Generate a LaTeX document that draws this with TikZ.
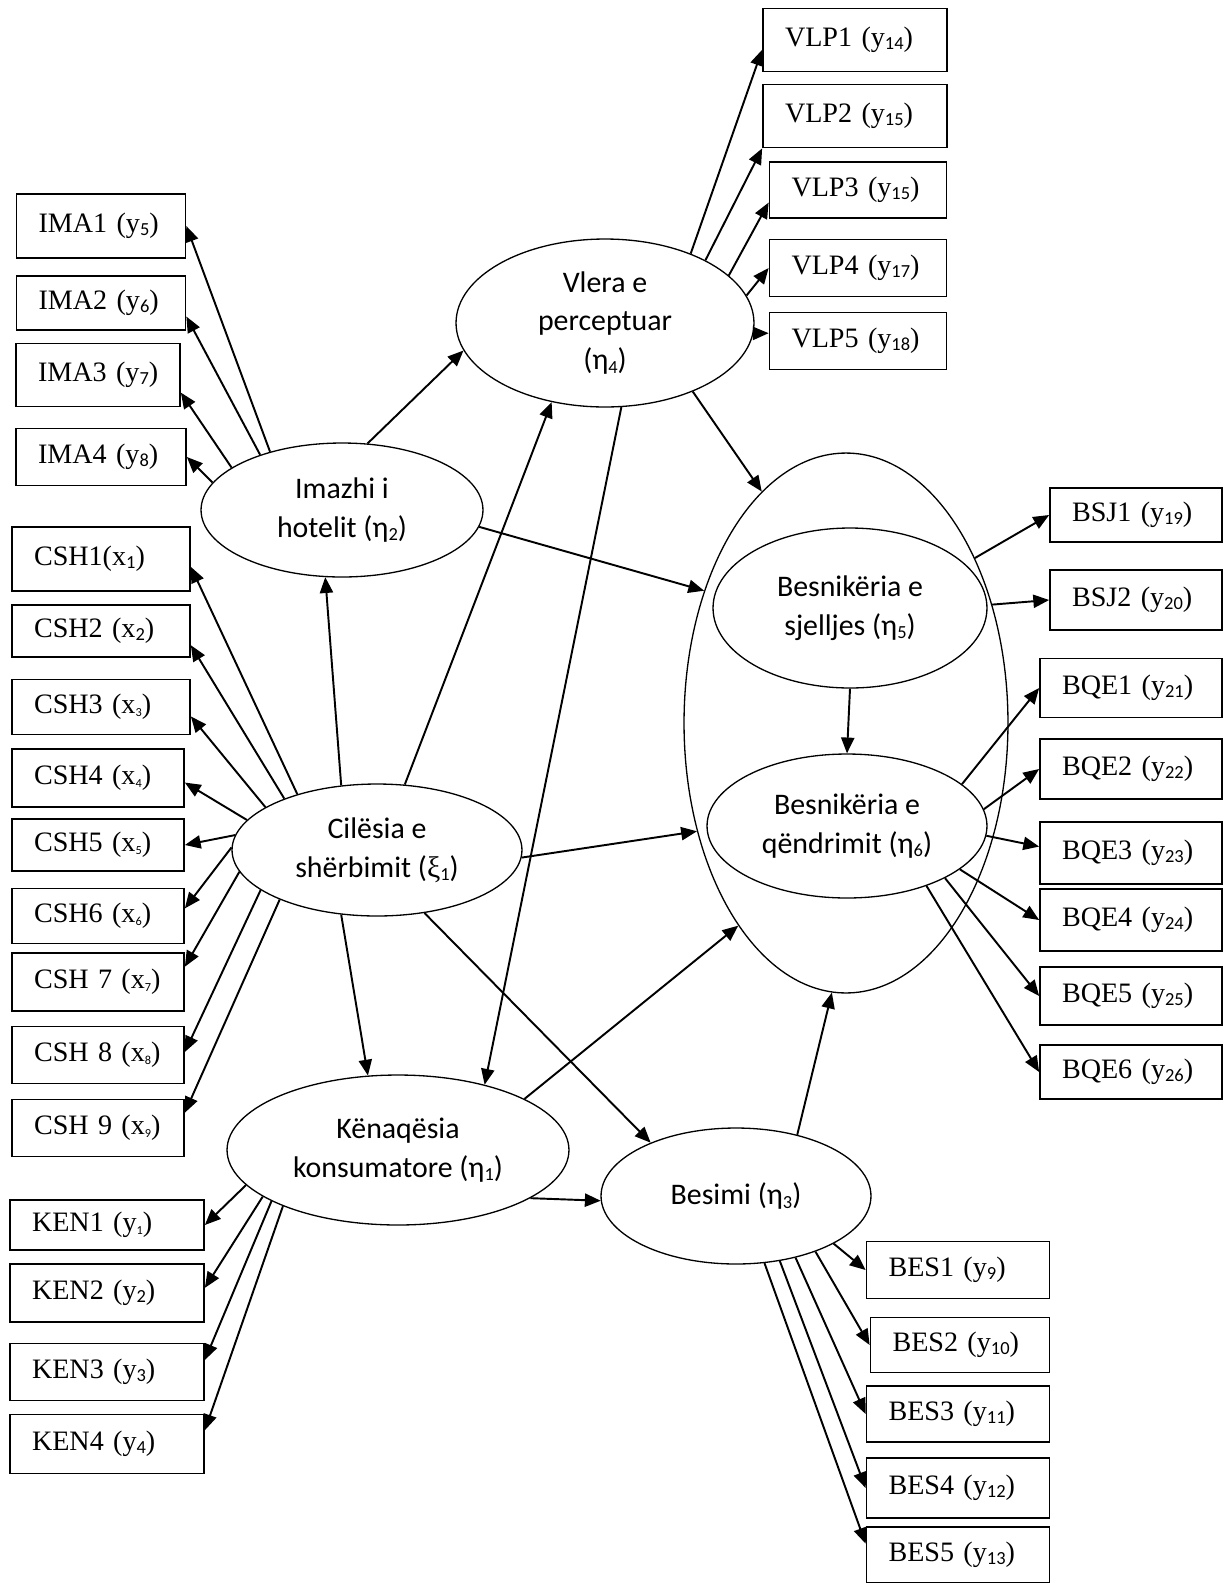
\documentclass[tikz,border=0pt]{standalone}
\usepackage{fontspec}
\setmainfont{Liberation Serif}
\newfontfamily\calib{Carlito}
\usetikzlibrary{arrows.meta,shapes.geometric}

\newcommand{\lo}[1]{\raisebox{-0.25ex}{\fontsize{10.5}{10.5}\selectfont\calib #1}}
\newcommand{\tlo}[1]{\raisebox{-0.2ex}{\fontsize{7}{7}\selectfont\calib #1}}

\begin{document}
\begin{tikzpicture}[x=0.02cm, y=-0.02cm,
lat/.style 2 args={ellipse, draw, line width=0.75pt, inner sep=0pt,
	minimum width=#1cm, minimum height=#2cm, align=center,
	font=\calib\fontsize{17}{22}\selectfont},
ind/.style 2 args={rectangle, draw, line width=1pt, inner sep=0pt,
	text width=#1cm, minimum height=#2cm, align=left,
	execute at begin node=\hspace*{0.44cm},
	font=\fontsize{16}{19}\selectfont},
lnk/.style={-{Triangle[length=9pt,width=7.5pt]}, line width=1.1pt}]
\useasboundingbox (0,0) rectangle (1225,1583);

% latent variables
\node[lat={5.64}{2.68}] (imazhi) at (342,510) {Imazhi i\\hotelit (η\lo{2})};
\node[lat={5.96}{3.36}] (vlera) at (605,323) {Vlera e\\perceptuar\\(η\lo{4})};
\node[lat={5.80}{2.64}] (cilesia) at (377,850) {Cilësia e\\shërbimit ({\rmfamily ξ}\lo{1})};
\node[lat={6.84}{3.00}] (kenaqesia) at (398,1150) {Kënaqësia\\konsumatore (η\lo{1})};
\node[lat={5.40}{2.72}] (besimi) at (736,1196) {Besimi (η\lo{3})};
\node[lat={6.48}{10.80}] (big) at (846,723) {};
\node[lat={5.48}{3.20}] (sjelljes) at (850,608) {Besnikëria e\\sjelljes (η\lo{5})};
\node[lat={5.60}{2.88}] (qendrimit) at (847,826) {Besnikëria e\\qëndrimit (η\lo{6})};

% indicators
\node[ind={3.38}{1.28}] (ima1) at (101,226) {IMA1 (y\lo{5})};
\node[ind={3.38}{1.08}] (ima2) at (101,303) {IMA2 (y\lo{6})};
\node[ind={3.28}{1.26}] (ima3) at (98,375) {IMA3 (y\lo{7})};
\node[ind={3.40}{1.14}] (ima4) at (101,457) {IMA4 (y\lo{8})};

\node[ind={3.56}{1.28}] (csh1) at (101,559) {CSH1(x\lo{1})};
\node[ind={3.56}{1.04}] (csh2) at (101,631) {CSH2 (x\lo{2})};
\node[ind={3.56}{1.10}] (csh3) at (101,707) {CSH3 (x\tlo{3})};
\node[ind={3.44}{1.16}] (csh4) at (98,778) {CSH4 (x\tlo{4})};
\node[ind={3.44}{1.04}] (csh5) at (98,845) {CSH5 (x\tlo{5})};
\node[ind={3.44}{1.10}] (csh6) at (98,916) {CSH6 (x\tlo{6})};
\node[ind={3.44}{1.16}] (csh7) at (98,982) {CSH 7 (x\tlo{7})};
\node[ind={3.44}{1.14}] (csh8) at (98,1055) {CSH 8 (x\tlo{8})};
\node[ind={3.44}{1.14}] (csh9) at (98,1128) {CSH 9 (x\tlo{9})};

\node[ind={3.88}{1.00}] (ken1) at (107,1225) {KEN1 (y\tlo{1})};
\node[ind={3.88}{1.16}] (ken2) at (107,1293) {KEN2 (y\lo{2})};
\node[ind={3.88}{1.14}] (ken3) at (107,1372) {KEN3 (y\lo{3})};
\node[ind={3.88}{1.18}] (ken4) at (107,1444) {KEN4 (y\lo{4})};

\node[ind={3.68}{1.26}] (vlp1) at (855,40) {VLP1 (y\lo{14})};
\node[ind={3.68}{1.26}] (vlp2) at (855,116) {VLP2 (y\lo{15})};
\node[ind={3.54}{1.12}] (vlp3) at (858,190) {VLP3 (y\lo{15})};
\node[ind={3.54}{1.14}] (vlp4) at (858,268) {VLP4 (y\lo{17})};
\node[ind={3.54}{1.14}] (vlp5) at (858,341) {VLP5 (y\lo{18})};

\node[ind={3.44}{1.08}] (bsj1) at (1136,515) {BSJ1 (y\lo{19})};
\node[ind={3.44}{1.20}] (bsj2) at (1136,600) {BSJ2 (y\lo{20})};

\node[ind={3.64}{1.18}] (bqe1) at (1131,688) {BQE1 (y\lo{21})};
\node[ind={3.64}{1.20}] (bqe2) at (1131,769) {BQE2 (y\lo{22})};
\node[ind={3.64}{1.24}] (bqe3) at (1131,853) {BQE3 (y\lo{23})};
\node[ind={3.64}{1.24}] (bqe4) at (1131,920) {BQE4 (y\lo{24})};
\node[ind={3.64}{1.16}] (bqe5) at (1131,996) {BQE5 (y\lo{25})};
\node[ind={3.64}{1.08}] (bqe6) at (1131,1072) {BQE6 (y\lo{26})};

\node[ind={3.66}{1.14}] (bes1) at (958,1270) {BES1 (y\lo{9})};
\node[ind={3.58}{1.10}] (bes2) at (960,1345) {BES2 (y\lo{10})};
\node[ind={3.66}{1.12}] (bes3) at (958,1414) {BES3 (y\lo{11})};
\node[ind={3.66}{1.20}] (bes4) at (958,1488) {BES4 (y\lo{12})};
\node[ind={3.66}{1.12}] (bes5) at (958,1555) {BES5 (y\lo{13})};

% imazhi
\draw[lnk] (imazhi.141) -- (ima1.east);
\draw[lnk] (imazhi.146) -- (ima2.-9);
\draw[lnk] (imazhi.159) -- (ima3.-12);
\draw[lnk] (imazhi.168) -- (ima4.east);
\draw[lnk] (imazhi.69) -- (vlera.191);
\draw[lnk] (imazhi.-7) -- (big.137);

% cilesia
\draw[lnk] (cilesia.119) -- (imazhi.256);
\draw[lnk] (cilesia.67) -- (vlera.236);
\draw[lnk] (cilesia.-3) -- (big.216);
\draw[lnk] (cilesia.241) -- (kenaqesia.112);
\draw[lnk] (cilesia.-53) -- (besimi.148);
\draw[lnk] (cilesia.145) -- (csh1.-5);
\draw[lnk] (cilesia.151) -- (csh2.-9);
\draw[lnk] (cilesia.159) -- (csh3.-6);
\draw[lnk] (cilesia.167) -- (csh4.-3);
\draw[lnk] (cilesia.174) -- (csh5.east);
\draw[lnk] (cilesia.179) -- (csh6.5);
\draw[lnk] (cilesia.189) -- (csh7.10);
\draw[lnk] (cilesia.199) -- (csh8.2);
\draw[lnk] (cilesia.207) -- (csh9.10);

% kenaqesia
\draw[lnk] (kenaqesia.193) -- (ken1.east);
\draw[lnk] (kenaqesia.199) -- (ken2.3);
\draw[lnk] (kenaqesia.202) -- (ken3.7);
\draw[lnk] (kenaqesia.206) -- (ken4.8);
\draw[lnk] (kenaqesia.22) -- (big.242);
\draw[lnk] (kenaqesia.-20) -- (besimi.182);

% vlera
\draw[lnk] (vlera.39) -- (vlp1.186);
\draw[lnk] (vlera.32) -- (vlp2.south west);
\draw[lnk] (vlera.21) -- (vlp3.188);
\draw[lnk] (vlera.11) -- (vlp4.west);
\draw[lnk] (vlera.-4) -- (vlp5.175);
\draw[lnk] (vlera.-38) -- (big.110);
\draw[lnk] (vlera.-79) -- (kenaqesia.37);

% besnikeria
\draw[lnk] (big.52) -- (bsj1.west);
\draw[lnk] (big.39) -- (bsj2.west);
\draw[lnk] (sjelljes.south) -- (qendrimit.north);
\draw[lnk] (qendrimit.20) -- (bqe1.west);
\draw[lnk] (qendrimit.7) -- (bqe2.west);
\draw[lnk] (qendrimit.-4) -- (bqe3.176);
\draw[lnk] (qendrimit.-21) -- (bqe4.west);
\draw[lnk] (qendrimit.-28) -- (bqe5.west);
\draw[lnk] (qendrimit.-37) -- (bqe6.west);

% besimi
\draw[lnk] (besimi.-26) -- (bes1.west);
\draw[lnk] (besimi.-35) -- (bes2.west);
\draw[lnk] (besimi.-46) -- (bes3.west);
\draw[lnk] (besimi.-56) -- (bes4.west);
\draw[lnk] (besimi.-67) -- (bes5.173);
\draw[lnk] (besimi.45) -- (big.267);
\end{tikzpicture}
\end{document}
